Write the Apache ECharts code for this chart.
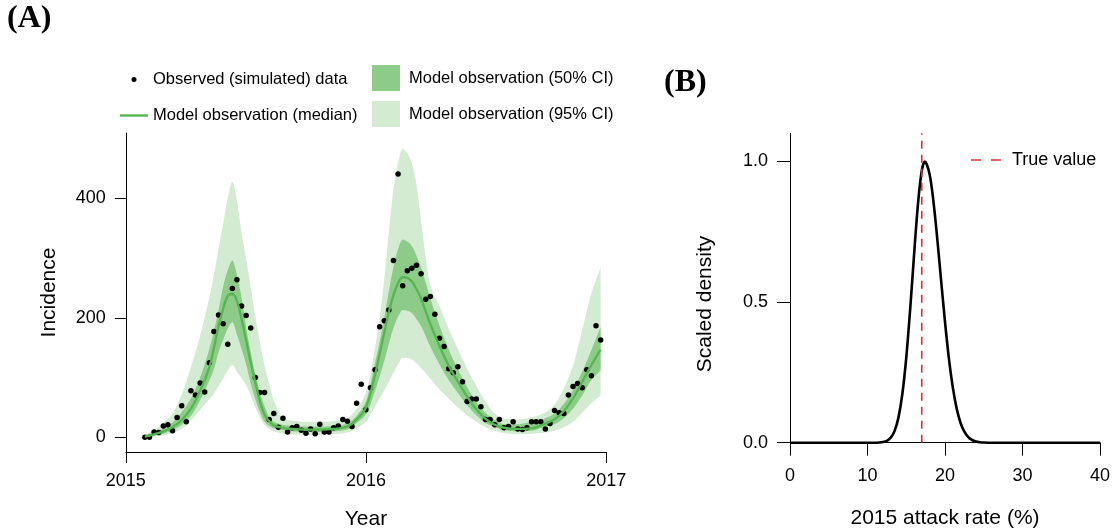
<!DOCTYPE html>
<html>
<head>
<meta charset="utf-8">
<title>Incidence and attack rate</title>
<script src="https://cdn.jsdelivr.net/npm/echarts@6/dist/echarts.min.js"></script>
<style>
  html, body { margin: 0; padding: 0; background: #ffffff; }
  #chart { width: 1114px; height: 532px; }
</style>
</head>
<body>
<div id="chart"></div>
<script>
// ---- Panel A: weekly incidence ----
// Day of year (2015) of the first weekly observation
const firstObsDay = 29;

// Observed (simulated) weekly incidence, one value per week
const obsIncidence = [
  0, 0, 9, 8, 19, 21, 11, 33, 53, 26,
  78, 71, 91, 76, 125, 177, 205, 190, 156, 249,
  264, 220, 204, 183, 100, 75, 75, 30, 40, 17,
  32, 9, 16, 18, 12, 7, 14, 6, 22, 9,
  9, 16, 19, 30, 27, 18, 57, 89, 46, 83,
  113, 185, 195, 213, 296, 441, 254, 279, 283, 288,
  274, 231, 236, 206, 166, 152, 115, 108, 118, 93,
  60, 64, 64, 51, 30, 30, 21, 30, 16, 18,
  26, 14, 13, 16, 26, 26, 26, 14, 23, 45,
  41, 40, 71, 85, 90, 83, 113, 103, 187, 163
];

// Week indices at which the model quantiles are given
const bandWeeks = [
  0, 2, 4, 6, 8, 10, 12,
  14, 15, 16, 17, 18, 19, 20, 21, 22, 23, 24, 25, 26, 27, 28,
  30, 32, 35, 38, 41, 44, 46, 48,
  50, 51, 52, 53, 54, 55, 56, 57, 58, 59, 60,
  62, 64, 66, 68, 70, 72, 74, 76, 78,
  81, 84, 87, 89, 91, 93, 95, 97, 99
];

const ci95Upper = [
  4, 12, 24, 40, 72, 118, 170,
  234, 272, 316, 358, 400, 428, 396, 343, 299, 251, 202, 160, 120, 90, 62,
  32, 28, 26, 26, 27, 32, 48, 75,
  150, 200, 265, 345, 415, 460, 483, 476, 458, 424, 362,
  255, 220, 182, 148, 115, 86, 60, 40, 31,
  30, 33, 42, 55, 82, 120, 180, 241, 285
];

const ci50Upper = [
  3, 8, 15, 25, 42, 65, 100,
  148, 178, 213, 252, 280, 296, 272, 234, 184, 142, 105, 75, 52, 34, 26,
  21, 19, 18, 18, 19, 23, 36, 60,
  125, 160, 200, 245, 285, 315, 331, 328, 320, 304, 284,
  233, 187, 147, 114, 84, 59, 41, 29, 22,
  22, 26, 32, 40, 56, 79, 110, 146, 185
];

const medianObs = [
  1, 5, 10, 17, 29, 48, 78,
  117, 150, 186, 215, 237, 240, 228, 198, 162, 125, 92, 60, 38, 27, 20,
  16, 14, 13, 13, 14, 18, 30, 50,
  105, 140, 175, 210, 238, 258, 268, 267, 261, 248, 232,
  190, 153, 120, 93, 68, 47, 31, 21, 16,
  14, 15, 23, 30, 44, 65, 93, 121, 147
];

const ci50Lower = [
  0, 3, 6, 12, 21, 36, 62,
  95, 114, 143, 163, 182, 193, 172, 148, 122, 90, 64, 42, 26, 19, 15,
  12, 10, 9, 9, 10, 13, 24, 38,
  78, 102, 128, 157, 183, 202, 213, 212, 208, 198, 186,
  152, 122, 96, 74, 54, 37, 24, 17, 12,
  10, 11, 18, 22, 32, 48, 70, 96, 112
];

const ci95Lower = [
  0, 1, 3, 7, 14, 28, 46,
  64, 73, 86, 98, 112, 121, 110, 99, 87, 70, 50, 33, 21, 14, 10,
  6, 5, 4, 4, 5, 8, 15, 26,
  52, 65, 78, 93, 108, 122, 133, 133, 130, 124, 116,
  98, 80, 65, 50, 37, 26, 17, 11, 7,
  5, 6, 8, 11, 17, 26, 41, 57, 70
];

const yearTicks = [2015, 2016, 2017];
const incidenceTicks = [0, 200, 400];

// ---- Panel B: posterior of the 2015 attack rate ----
const attackRate = [
  0, 10, 11, 11.5, 12, 12.5, 13, 13.5, 14, 14.5, 15, 15.5, 16, 16.5, 17, 17.4,
  18, 18.5, 19, 19.5, 20, 20.5, 21, 21.5, 22, 22.5, 23, 23.5, 24, 24.5, 25, 26, 30, 40
];
const scaledDensity = [
  0, 0, 0, 0.0007, 0.0023, 0.0067, 0.018, 0.042, 0.090, 0.174, 0.302, 0.472, 0.665, 0.845, 0.967, 1.0,
  0.956, 0.86, 0.726, 0.576, 0.43, 0.30, 0.198, 0.122, 0.071, 0.039, 0.020, 0.0096, 0.0043, 0.0018, 0.0007, 0, 0, 0
];
const trueAttackRate = 17;
const densityTicks = [0, 0.5, 1.0];

// ---- styling ----
const FONT = '"Liberation Sans", Arial, Helvetica, sans-serif';
const LIGHT = '#d3ebd1';
const DARK = '#8ccb88';
const MEDIAN = '#55b551';
const RED = '#e02a30';

const weekYear = i => 2015 + (firstObsDay + 7 * i) / 365.25;
const bandYears = bandWeeks.map(weekYear);
const obsPoints = obsIncidence.map((v, i) => [weekYear(i), v]);
const medianPoints = medianObs.map((v, k) => [bandYears[k], v]);
const densityPoints = attackRate.map((x, k) => [x, scaledDensity[k]]);

// Monotone cubic (Fritsch–Carlson) resampling of a pixel polyline, x increasing
function monotoneCurve(pts, steps) {
  const n = pts.length;
  if (n < 3) return pts.slice();
  const dx = [], m = [], t = new Array(n);
  for (let i = 0; i < n - 1; i++) {
    dx[i] = pts[i + 1][0] - pts[i][0];
    m[i] = (pts[i + 1][1] - pts[i][1]) / dx[i];
  }
  t[0] = m[0];
  t[n - 1] = m[n - 2];
  for (let i = 1; i < n - 1; i++) {
    if (m[i - 1] * m[i] <= 0) t[i] = 0;
    else {
      const a = 2 * dx[i] + dx[i - 1], b = dx[i] + 2 * dx[i - 1];
      t[i] = (a + b) / (a / m[i - 1] + b / m[i]);
    }
  }
  const out = [];
  for (let i = 0; i < n - 1; i++) {
    const h = dx[i], y0 = pts[i][1], y1 = pts[i + 1][1];
    for (let s = 0; s < steps; s++) {
      const u = s / steps, u2 = u * u, u3 = u2 * u;
      const y = (2 * u3 - 3 * u2 + 1) * y0 + (u3 - 2 * u2 + u) * h * t[i]
              + (-2 * u3 + 3 * u2) * y1 + (u3 - u2) * h * t[i + 1];
      out.push([pts[i][0] + u * h, y]);
    }
  }
  out.push(pts[n - 1]);
  return out;
}

// Custom series drawing a quantile band as one filled polygon between two edges
function bandSeries(name, upper, lower, color) {
  return {
    name: name, type: 'custom', coordinateSystem: 'cartesian2d',
    xAxisIndex: 0, yAxisIndex: 0, silent: true, clip: true,
    itemStyle: { color: color },
    data: bandYears.map((t, k) => [t, lower[k], upper[k]]),
    encode: { x: 0, y: [1, 2] },
    renderItem: function (params, api) {
      if (params.dataIndex !== 0) return null;
      const top = bandYears.map((t, k) => api.coord([t, upper[k]]));
      const bottom = bandYears.map((t, k) => api.coord([t, lower[k]]));
      const pts = monotoneCurve(top, 10).concat(monotoneCurve(bottom, 10).reverse());
      return { type: 'polygon', shape: { points: pts }, style: { fill: color, stroke: null } };
    }
  };
}

const axisText = { color: '#000', fontFamily: FONT, fontSize: 18 };
const titleText = { color: '#000', fontFamily: FONT, fontSize: 21 };
const blackLine = { color: '#000', width: 1 };

const chart = echarts.init(document.getElementById('chart'), null, { renderer: 'canvas' });

const option = {
  animation: false,
  backgroundColor: '#ffffff',
  grid: [
    { left: 125.8, top: 133, width: 480.4, height: 319, containLabel: false, outerBoundsMode: 'none' },
    { left: 790, top: 133.3, width: 310, height: 309.4, containLabel: false, outerBoundsMode: 'none' }
  ],
  xAxis: [
    {
      gridIndex: 0, type: 'value', min: 2015, max: 2017, interval: 1,
      splitLine: { show: false },
      axisLine: { show: true, onZero: false, lineStyle: blackLine },
      axisTick: { show: true, length: 11, customValues: yearTicks, lineStyle: blackLine },
      axisLabel: Object.assign({ margin: 20, customValues: yearTicks, formatter: v => String(v) }, axisText),
      name: 'Year', nameLocation: 'middle', nameGap: 57, nameTextStyle: titleText
    },
    {
      gridIndex: 1, type: 'value', min: 0, max: 40, interval: 10,
      splitLine: { show: false },
      axisLine: { show: true, onZero: false, lineStyle: blackLine },
      axisTick: { show: true, length: 13, lineStyle: blackLine },
      axisLabel: Object.assign({ margin: 24, formatter: v => String(v) }, axisText),
      name: '2015 attack rate (%)', nameLocation: 'middle', nameGap: 65, nameTextStyle: titleText
    }
  ],
  yAxis: [
    {
      gridIndex: 0, type: 'value', min: -24.6, max: 509.6,
      splitLine: { show: false },
      axisLine: { show: true, onZero: false, lineStyle: blackLine },
      axisTick: { show: true, length: 11, customValues: incidenceTicks, lineStyle: blackLine },
      axisLabel: Object.assign({ margin: 20, customValues: incidenceTicks }, axisText),
      name: 'Incidence', nameLocation: 'middle', nameGap: 66, nameTextStyle: titleText
    },
    {
      gridIndex: 1, type: 'value', min: 0, max: 1.1,
      splitLine: { show: false },
      axisLine: { show: true, onZero: false, lineStyle: blackLine },
      axisTick: { show: true, length: 13, customValues: densityTicks, lineStyle: blackLine },
      axisLabel: Object.assign({ margin: 22, customValues: densityTicks, formatter: v => v.toFixed(1) }, axisText)
    }
  ],
  legend: [
    {
      orient: 'vertical', left: 115, top: 66, itemWidth: 28, itemHeight: 5, itemGap: 19,
      selectedMode: false,
      textStyle: { color: '#000', fontFamily: FONT, fontSize: 16.5 },
      data: [
        { name: 'Observed (simulated) data', icon: 'circle', itemStyle: { color: '#000', borderWidth: 0 } },
        { name: 'Model observation (median)', icon: 'path://M0,0H28V2.4H0Z', itemStyle: { color: MEDIAN, borderWidth: 0 } }
      ]
    },
    {
      orient: 'vertical', left: 367, top: 60, itemWidth: 28, itemHeight: 26, itemGap: 10,
      selectedMode: false,
      textStyle: { color: '#000', fontFamily: FONT, fontSize: 16.5, padding: [0, 0, 0, 4] },
      data: [
        { name: 'Model observation (50% CI)', icon: 'rect', itemStyle: { color: DARK, borderWidth: 0 } },
        { name: 'Model observation (95% CI)', icon: 'rect', itemStyle: { color: LIGHT, borderWidth: 0 } }
      ]
    },
    {
      orient: 'vertical', left: 966, top: 146, itemWidth: 30, itemHeight: 10,
      selectedMode: false,
      textStyle: { color: '#000', fontFamily: FONT, fontSize: 18, padding: [0, 0, 0, 6] },
      data: [{ name: 'True value', icon: 'path://M0,0H10V1.6H0Z M20,0H30V1.6H20Z', itemStyle: { color: RED, borderWidth: 0 } }]
    }
  ],
  series: [
    bandSeries('Model observation (95% CI)', ci95Upper, ci95Lower, LIGHT),
    bandSeries('Model observation (50% CI)', ci50Upper, ci50Lower, DARK),
    {
      name: 'Model observation (median)', type: 'line', xAxisIndex: 0, yAxisIndex: 0,
      data: medianPoints, symbol: 'none', smooth: 0.4, silent: true,
      itemStyle: { color: MEDIAN }, lineStyle: { color: MEDIAN, width: 2.3 }
    },
    {
      name: 'Observed (simulated) data', type: 'scatter', xAxisIndex: 0, yAxisIndex: 0,
      data: obsPoints, symbol: 'circle', symbolSize: 5.5, silent: true,
      itemStyle: { color: '#000', opacity: 1 }
    },
    // Panel B
    {
      name: 'Scaled density', type: 'line', xAxisIndex: 1, yAxisIndex: 1,
      data: densityPoints, symbol: 'none', smooth: 0.3, silent: true,
      itemStyle: { color: '#000' }, lineStyle: { color: '#000', width: 2.6 }
    },
    {
      name: 'True value', type: 'line', xAxisIndex: 1, yAxisIndex: 1,
      data: [[trueAttackRate, 0], [trueAttackRate, 1.1]], symbol: 'none', silent: true,
      itemStyle: { color: RED }, lineStyle: { color: RED, width: 1.6, type: [8, 6] }
    }
  ],
  graphic: [
    { type: 'text', left: 7, top: 3, style: { text: '(A)', font: 'bold 32px "Liberation Serif", serif', fill: '#000' } },
    { type: 'text', left: 664, top: 67, style: { text: '(B)', font: 'bold 32px "Liberation Serif", serif', fill: '#000' } },
    {
      type: 'text', x: 705, y: 304, rotation: Math.PI / 2,
      style: { text: 'Scaled density', font: '21px ' + FONT, fill: '#000', align: 'center', verticalAlign: 'middle' }
    }
  ]
};

chart.setOption(option);
</script>
</body>
</html>
